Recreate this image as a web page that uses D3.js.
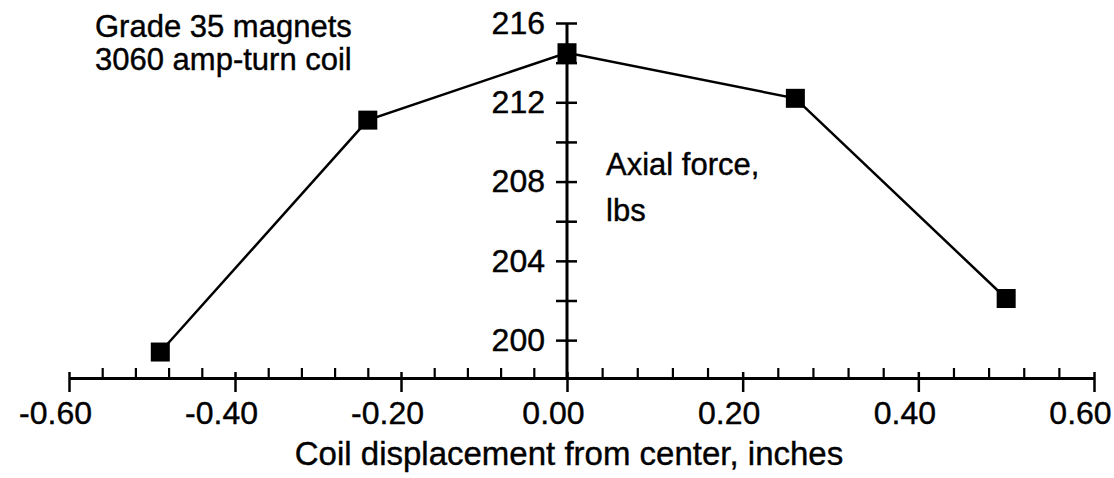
<!DOCTYPE html>
<html>
<head>
<meta charset="utf-8">
<script src="https://cdn.jsdelivr.net/npm/d3@7"></script>
<style>
  body { margin: 0; background: #fff; }
  text { font-family: "Liberation Sans", Arial, Helvetica, sans-serif; fill: #000; stroke: #000; stroke-width: 0.4px; }
</style>
</head>
<body>
<div id="chart"></div>
<script>
// data
var displacement = [-0.49, -0.24, 0.00, 0.26, 0.50];
var axialForce = [199.4, 211.1, 214.5, 212.2, 202.1];

var xMajorTicks = [-0.6, -0.4, -0.2, 0.0, 0.2, 0.4, 0.6];
var xTickLabels = ["-0.60", "-0.40", "-0.20", "0.00", "0.20", "0.40", "0.60"];
var yMajorTicks = [200, 204, 208, 212, 216];
var yMinorTicks = [202, 206, 210, 214];
var noteLines = ["Grade 35 magnets", "3060 amp-turn coil"];
var yTitleLines = ["Axial force,", "lbs"];
var xTitle = "Coil displacement from center, inches";

var svgWidth = 1114;
var svgHeight = 478;

var svg = d3.select("#chart")
  .append("svg")
  .attr("width", svgWidth)
  .attr("height", svgHeight);

// the scanned axis is a bit uneven on both sides of zero, so use a piecewise scale
var xScale = d3.scaleLinear()
  .domain([-0.6, 0, 0.6])
  .range([69, 567, 1094]);

var yScale = d3.scaleLinear()
  .domain([198.09, 216])
  .range([378, 23]);

var xMinorTicks = d3.range(-0.6, 0.6001, 0.04)
  .map(d => Math.round(d * 100) / 100)
  .filter(d => xMajorTicks.indexOf(d) < 0);

var axisY = yScale.range()[0];
var axisX = xScale(0);

// x axis, minor ticks pointing up
var xMinor = svg.append("g")
  .attr("transform", `translate(0, ${axisY})`)
  .call(d3.axisBottom(xScale).tickValues(xMinorTicks).tickFormat("").tickSizeOuter(0));
xMinor.select(".domain").remove();
xMinor.selectAll(".tick line")
  .attr("y1", -10).attr("y2", 0)
  .attr("stroke", "#000").attr("stroke-width", 2.2);

// x axis, major ticks
var xMajor = svg.append("g")
  .attr("transform", `translate(0, ${axisY})`)
  .call(d3.axisBottom(xScale)
    .tickValues(xMajorTicks)
    .tickFormat((d, i) => xTickLabels[i])
    .tickSizeOuter(0));
xMajor.select(".domain")
  .attr("stroke", "#000").attr("stroke-width", 3);
xMajor.selectAll(".tick line")
  .attr("y1", -6).attr("y2", 14)
  .attr("stroke", "#000").attr("stroke-width", 2.5);
xMajor.selectAll(".tick text")
  .attr("y", 46).attr("dy", 0).attr("dx", -14)
  .style("font-size", "32px")
  .style("font-family", "Liberation Sans, Arial, sans-serif")
  .attr("fill", "#000");

// y axis
var yMinor = svg.append("g")
  .attr("transform", `translate(${axisX}, 0)`)
  .call(d3.axisLeft(yScale).tickValues(yMinorTicks).tickFormat(""));
yMinor.select(".domain").remove();
yMinor.selectAll(".tick line")
  .attr("x1", -11).attr("x2", 10)
  .attr("stroke", "#000").attr("stroke-width", 2.5);

var yMajor = svg.append("g")
  .attr("transform", `translate(${axisX}, 0)`)
  .call(d3.axisLeft(yScale).tickValues(yMajorTicks).tickSizeOuter(0));
yMajor.select(".domain")
  .attr("stroke", "#000").attr("stroke-width", 3)
  .attr("d", `M0,${yScale(216)}V${axisY}`);
yMajor.selectAll(".tick line")
  .attr("x1", -11).attr("x2", 10)
  .attr("stroke", "#000").attr("stroke-width", 2.5);
yMajor.selectAll(".tick text")
  .attr("x", -22)
  .style("font-size", "32px")
  .style("font-family", "Liberation Sans, Arial, sans-serif")
  .attr("fill", "#000");

// the line and square markers
var points = displacement.map((d, i) => ({ x: d, y: axialForce[i] }));

var line = d3.line()
  .x(d => xScale(d.x))
  .y(d => yScale(d.y));

svg.append("path")
  .datum(points)
  .attr("d", line)
  .attr("fill", "none")
  .attr("stroke", "#000")
  .attr("stroke-width", 2.5);

var markerSize = 19;
svg.selectAll("rect.marker")
  .data(points)
  .enter()
  .append("rect")
  .attr("class", "marker")
  .attr("x", d => xScale(d.x) - markerSize / 2)
  .attr("y", d => yScale(d.y) - markerSize / 2)
  .attr("width", markerSize)
  .attr("height", markerSize)
  .attr("fill", "#000");

// notes and titles
svg.append("text")
  .attr("x", 95)
  .attr("y", 37)
  .style("font-size", "31px")
  .selectAll("tspan")
  .data(noteLines)
  .enter()
  .append("tspan")
  .attr("x", 95)
  .attr("dy", (d, i) => i === 0 ? 0 : 33)
  .text(d => d);

svg.append("text")
  .attr("x", 606)
  .attr("y", 175)
  .style("font-size", "31px")
  .selectAll("tspan")
  .data(yTitleLines)
  .enter()
  .append("tspan")
  .attr("x", 606)
  .attr("dy", (d, i) => i === 0 ? 0 : 46)
  .text(d => d);

svg.append("text")
  .attr("x", 569)
  .attr("y", 465)
  .attr("text-anchor", "middle")
  .style("font-size", "33px")
  .text(xTitle);
</script>
</body>
</html>
